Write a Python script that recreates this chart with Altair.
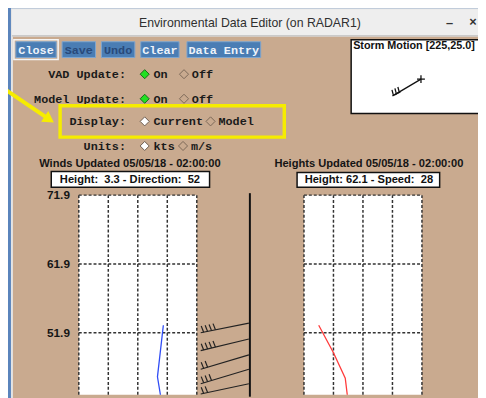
import altair as alt
import pandas as pd

# ---------------- data values ----------------
wind_heights = [53.0, 50.5, 48.0, 45.5, 42.9]
wind_dirs = [258, 252, 246, 240, 249]
speed_heights = [53.0, 49.0, 45.3, 42.9]
speed_values = [12.5, 25.0, 35.0, 36.7]
height_ticks = [71.9, 61.9, 51.9]
dir_grid = [0, 90, 180, 270, 360]
speed_grid = [0, 25, 50, 75, 100]
barb_heights = [51.9, 49.3, 46.6, 44.5, 43.0]
barb_tops = [53.3, 51.0, 48.7, 46.6, 44.5]
barb_flags = [4, 4, 2, 3, 2]
buttons = ["Close", "Save", "Undo", "Clear", "Data Entry"]
buttons_enabled = [True, False, False, True, True]
option_labels = ["VAD Update:", "Model Update:", "Display:", "Units:"]
option_a = ["On", "On", "Current", "kts"]
option_b = ["Off", "Off", "Model", "m/s"]
option_sel = ["green", "green", "white", "white"]
window_title = "Environmental Data Editor (on RADAR1)"
winds_title = "Winds Updated 05/05/18 - 02:00:00"
heights_title = "Heights Updated 05/05/18 - 02:00:00"
winds_info = "Height:\u00a0 3.3 - Direction:\u00a0 52"
heights_info = "Height: 62.1 - Speed:\u00a0 28"
storm_motion = "Storm Motion [225,25.0]"

# ---------------- layout (screen pixels) ----------------
PX = alt.Scale(domain=[8, 486], range=[0, 478], nice=False, zero=False)
PY = alt.Scale(domain=[8, 398], range=[0, 390], nice=False, zero=False)
HS = alt.Scale(domain=[42.9, 71.9], range=[390, 187], nice=False, zero=False)
DS = alt.Scale(domain=[0, 360], range=[72, 192], nice=False, zero=False)
SS = alt.Scale(domain=[0, 100], range=[301, 421], nice=False, zero=False)

BLUE_BG = "#5a84bc"
TAN = "#c9aa8f"
BTN = "#4a7db4"
YEL = "#f6ec00"
MONO = "Liberation Mono"
SANS = "Liberation Sans"

button_x = [(16, 57), (63, 97), (103, 137), (143, 182), (190, 265)]
button_y = (39, 55)
row_y = [72, 97, 120, 145]
label_right = 128
opt_a_x = [147, 147, 147, 147]
opt_b_x = [187, 187, 214, 186]


def rects(rows, fill, stroke=None, sw=1.0, xs=PX, ys=PY, fop=1.0):
    df = pd.DataFrame(rows, columns=["x0", "y0", "x1", "y1"])
    kw = dict(fill=fill, fillOpacity=fop)
    if stroke:
        kw.update(stroke=stroke, strokeWidth=sw)
    return alt.Chart(df).mark_rect(**kw).encode(
        x=alt.X("x0:Q", scale=xs, axis=None), x2="x1:Q",
        y=alt.Y("y0:Q", scale=ys, axis=None), y2="y1:Q")


def segs(rows, color, sw, xs=PX, ys=PY, dash=None, cap="butt"):
    df = pd.DataFrame(rows, columns=["a", "b", "c", "d"])
    kw = dict(color=color, strokeWidth=sw, strokeCap=cap)
    if dash:
        kw["strokeDash"] = dash
    return alt.Chart(df).mark_rule(**kw).encode(
        x=alt.X("a:Q", scale=xs, axis=None), x2="c:Q",
        y=alt.Y("b:Q", scale=ys, axis=None), y2="d:Q")


def texts(rows, font, size, weight="normal", color="#000", align="left",
          xs=PX, ys=PY):
    df = pd.DataFrame(rows, columns=["x", "y", "t"])
    return alt.Chart(df).mark_text(
        font=font, fontSize=size, fontWeight=weight, color=color,
        align=align, baseline="middle").encode(
        x=alt.X("x:Q", scale=xs, axis=None),
        y=alt.Y("y:Q", scale=ys, axis=None), text="t:N")


def points(rows, fill, stroke, size=80, shape="diamond", angle=0, sw=1.0):
    df = pd.DataFrame(rows, columns=["x", "y"])
    kw = dict(shape=shape, size=size, filled=True, fill=fill, opacity=1,
              angle=angle, strokeWidth=sw)
    if stroke:
        kw["stroke"] = stroke
    return alt.Chart(df).mark_point(**kw).encode(
        x=alt.X("x:Q", scale=PX, axis=None), y=alt.Y("y:Q", scale=PY, axis=None))


layers = []
# window frame
layers.append(rects([(11, 5, 490, 402)], "#e4e4e4"))
layers.append(rects([(12, 6, 490, 33)], "#eeeeee"))
layers.append(segs([(12, 33, 490, 33)], "#b8b8b8", 1))
layers.append(rects([(13, 34, 490, 402)], TAN))
layers.append(texts([(254, 20, window_title)], SANS, 12.5, color="#2f2f2f", align="center"))
layers.append(texts([(457, 20, "\u2013"), (481, 19, "\u00d7")], SANS, 13, weight="bold", color="#333", align="center"))

# buttons
layers.append(rects([(14, 37, 59, 57)], "#f2f2f2", fop=0, stroke="#f4f4f4", sw=1.5))
layers.append(rects([(a, button_y[0], b, button_y[1]) for a, b in button_x], BTN, stroke="#7ea5cf", sw=1))
en = [((a + b) / 2, 47.5, t) for (a, b), t, e in zip(button_x, buttons, buttons_enabled) if e]
dis = [((a + b) / 2, 47.5, t) for (a, b), t, e in zip(button_x, buttons, buttons_enabled) if not e]
layers.append(texts(en, MONO, 12, weight="bold", color="#eef3fa", align="center"))
layers.append(texts(dis, MONO, 12, weight="bold", color="#28497a", align="center"))

# storm motion box
layers.append(rects([(357, 37, 492, 112)], "white", stroke="#111", sw=1.5))
layers.append(texts([(359, 43.5, storm_motion)], SANS, 11, weight="bold", color="#111"))
layers.append(segs([(401, 93, 428, 77), (424, 77, 432, 77), (428, 73, 428, 81),
                    (399, 94, 407, 90), (400, 93.5, 398.5, 88), (403, 92, 401.5, 86.5),
                    (406, 90.5, 404.5, 85)], "#111", 1.3))

# option rows
layers.append(texts([(label_right, y, t) for y, t in zip(row_y, option_labels)], MONO, 12,
                    weight="bold", color="#1a1a1a", align="right"))
layers.append(texts([(x + 9, y, t) for x, y, t in zip(opt_a_x, row_y, option_a)], MONO, 12,
                    weight="bold", color="#1a1a1a"))
layers.append(texts([(x + 8, y, t) for x, y, t in zip(opt_b_x, row_y, option_b)], MONO, 12,
                    weight="bold", color="#1a1a1a"))
layers.append(points([(x, y) for x, y, s in zip(opt_a_x, row_y, option_sel) if s == "green"],
                     "#22e022", "#1a6a1a", size=85))
layers.append(points([(x, y) for x, y, s in zip(opt_a_x, row_y, option_sel) if s == "white"],
                     "#ffffff", "#6a5a4c", size=85))
layers.append(points([(x, y) for x, y in zip(opt_b_x, row_y)], TAN, "#7a6757", size=85))

# highlight box and arrow
layers.append(rects([(61, 104, 289, 136)], "white", fop=0, stroke=YEL, sw=3.5))
layers.append(segs([(6, 88, 47, 116)], YEL, 4))
layers.append(points([(50, 118)], YEL, None, size=170, shape="triangle-right", angle=34))

# panel titles and info boxes
layers.append(texts([(132, 163, winds_title), (375, 163, heights_title)], SANS, 11.3,
                    weight="bold", color="#151515", align="center"))
layers.append(rects([(52, 171, 213, 187), (302, 172, 447, 187)], "white", stroke="#111", sw=1.5))
layers.append(texts([(132, 179.5, winds_info), (375, 179.5, heights_info)], SANS, 11.3,
                    weight="bold", color="#111", align="center"))

# left panel (winds)
layers.append(rects([(0, 42.9, 360, 71.9)], "white", xs=DS, ys=HS))
layers.append(segs([(g, 42.9, g, 71.9) for g in dir_grid] + [(0, h, 360, h) for h in height_ticks],
                   "#333", 1.5, xs=DS, ys=HS, dash=[3, 2]))
layers.append(alt.Chart(pd.DataFrame({"d": wind_dirs, "h": wind_heights, "i": range(len(wind_dirs))}))
              .mark_line(color="#2f4cf5", strokeWidth=1.3)
              .encode(x=alt.X("d:Q", scale=DS, axis=None), y=alt.Y("h:Q", scale=HS, axis=None),
                      order="i:Q"))
layers.append(texts([(71, h, f"{h:.1f}") for h in height_ticks], SANS, 12, weight="bold",
                    color="#151515", align="right", ys=HS))

# right panel (speeds)
layers.append(rects([(0, 42.9, 100, 71.9)], "white", xs=SS, ys=HS))
layers.append(segs([(g, 42.9, g, 71.9) for g in speed_grid] + [(0, h, 100, h) for h in height_ticks],
                   "#333", 1.5, xs=SS, ys=HS, dash=[3, 2]))
layers.append(alt.Chart(pd.DataFrame({"s": speed_values, "h": speed_heights, "i": range(len(speed_values))}))
              .mark_line(color="#ff3a3a", strokeWidth=1.3)
              .encode(x=alt.X("s:Q", scale=SS, axis=None), y=alt.Y("h:Q", scale=HS, axis=None),
                      order="i:Q"))

# wind barbs between panels
layers.append(segs([(254, 193, 254, 400)], "#111", 2))
shafts, ticks = [], []
for h, top, n in zip(barb_heights, barb_tops, barb_flags):
    shafts.append((204, h, 253, top))
    for j in range(n):
        x = 207 + 4 * j
        y = h + (top - h) * (x - 204) / 49
        ticks.append((x, y, x - 2.5, y + 0.9))
layers.append(segs(shafts, "#222", 1.2, ys=HS))
layers.append(segs(ticks, "#222", 1.2, ys=HS))

chart = alt.layer(*layers).resolve_scale(x="independent", y="independent").properties(
    width=478, height=390, background=BLUE_BG, padding=0,
    autosize=alt.AutoSizeParams(type="none"),
).configure_view(stroke=None)

chart.save("out.html", embed_options={"renderer": "svg", "actions": False})
